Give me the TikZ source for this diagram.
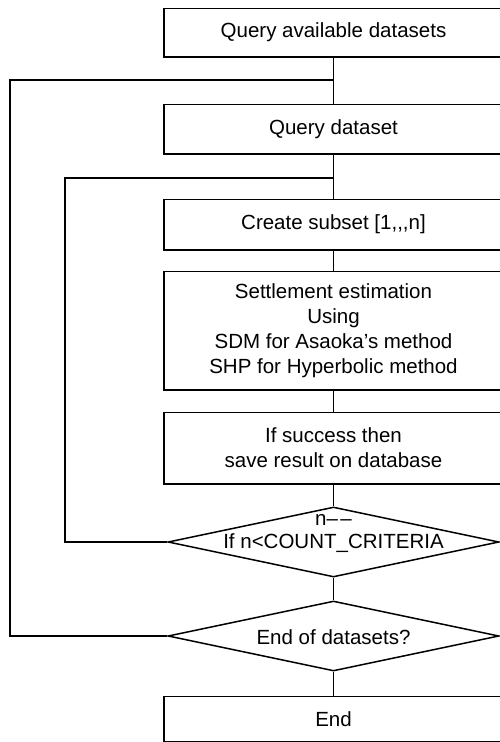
\documentclass[tikz,border=0pt]{standalone}
\usepackage{fontspec}
\setmainfont{Liberation Sans}
\usetikzlibrary{shapes.geometric}
\begin{document}
\begin{tikzpicture}[x=1pt,y=-1pt, line width=1.5pt,
  txt/.style={font=\fontsize{20.5}{25}\selectfont},
  procbox/.style={rectangle, minimum width=338pt, align=center, inner sep=0pt, txt},
  decbox/.style={draw, diamond, minimum width=331pt, minimum height=70pt, inner sep=0pt},
  lbl/.style={inner sep=0pt, txt}]
\useasboundingbox (0,0) rectangle (499,742);
\node[procbox, minimum height=47pt] (b1) at (333.5,32.5) {Query available datasets};
\node[procbox, minimum height=48pt] (b2) at (333.5,129) {Query dataset};
\node[procbox, minimum height=49pt] (b3) at (333.5,224.5) {Create subset [1,{},{},n]};
\node[procbox, minimum height=117pt] (b4) at (333.5,330.5) {Settlement estimation\\Using\\SDM for Asaoka's method\\SHP for Hyperbolic method};
\node[procbox, minimum height=70pt] (b5) at (333.5,448) {If success then\\save result on database};
\node[decbox] (d1) at (333.5,542) {};
\node[decbox] (d2) at (333.5,636) {};
\node[procbox, minimum height=44pt] (b6) at (333.5,719) {End};
\foreach \n in {b1,b2,b3,b4,b5,b6}
  \draw (\n.north west) rectangle ([xshift=15pt]\n.south east);
\node[lbl] (d1a) at (333.5,520) {n\textendash\kern2.5pt\textendash};
\node[lbl] (d1b) at (333.5,543) {If n<COUNT\_CRITERIA};
\node[lbl] (d2t) at (333.5,637) {End of datasets?};
\coordinate (j1) at (333.5,80);
\coordinate (o1) at (10,80);
\coordinate (o2) at (10,636);
\coordinate (j2) at (333.5,178);
\coordinate (i1) at (65,178);
\coordinate (i2) at (65,542);
\draw (b1.south) -- (b2.north);
\draw (b2.south) -- (b3.north);
\draw (b3.south) -- (b4.north);
\draw (b4.south) -- (b5.north);
\draw (b5.south) -- (d1.north);
\draw (d1.south) -- (d2.north);
\draw (d2.south) -- (b6.north);
\draw (d2.west) -- (o2) -- (o1) -- (j1);
\draw (d1.west) -- (i2) -- (i1) -- (j2);
\end{tikzpicture}
\end{document}
